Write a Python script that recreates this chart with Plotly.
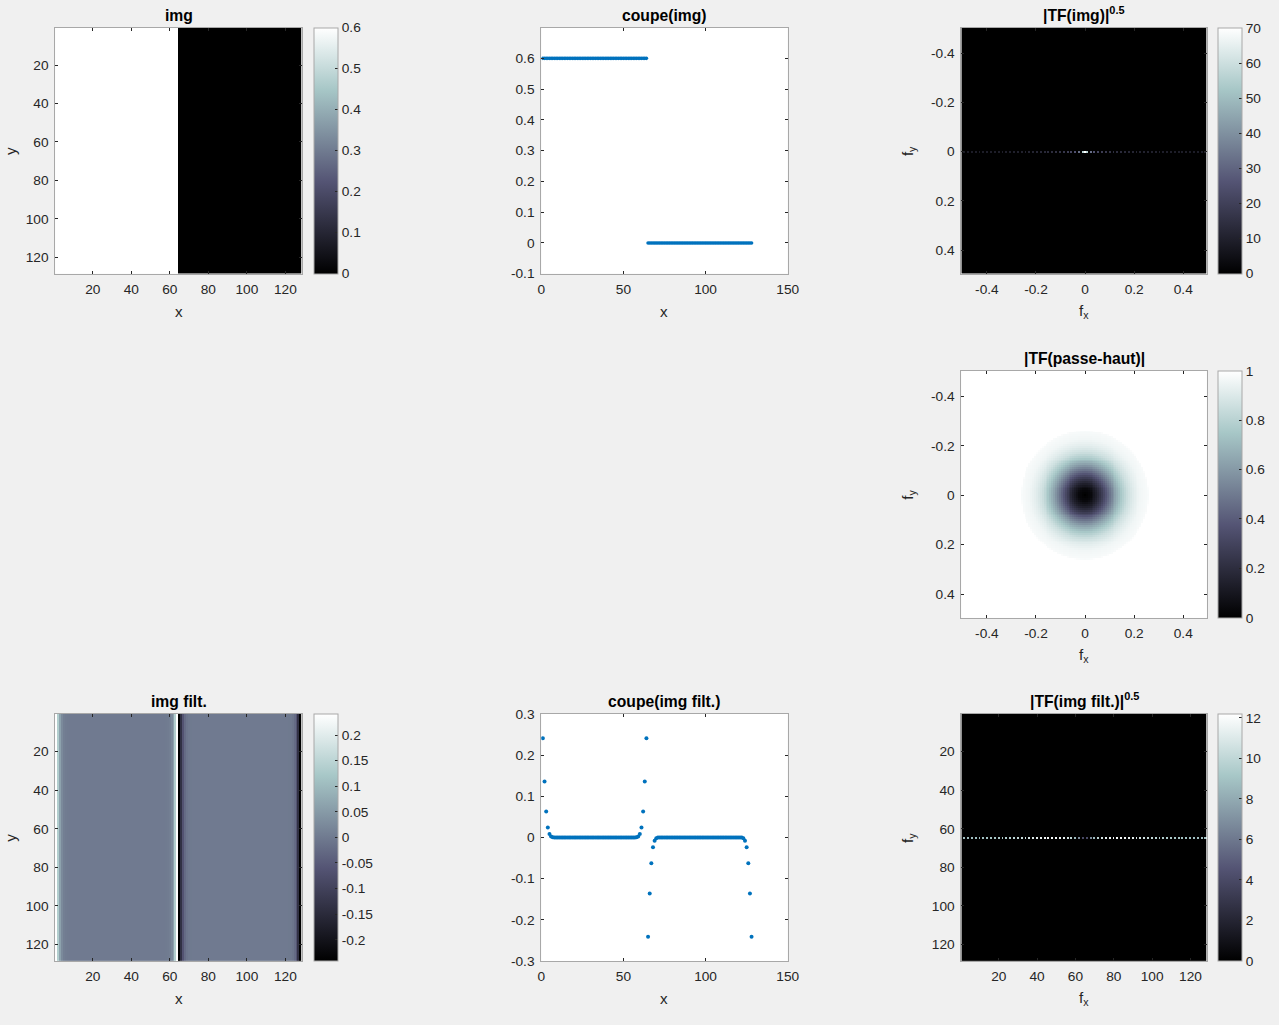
import numpy as np
import plotly.graph_objects as go

W, H = 1279, 1025
# measured mapping of this viewer: screen = S * css + O  (inverted below)
SX, OX = 0.9896, 2.6
SY, OY = 0.985, 6.4
FONT = "Liberation Sans, Arial, Helvetica, sans-serif"
TXT = "#262626"
BONE = [[0.0, "rgb(0,0,0)"], [0.375, "rgb(84,84,116)"],
        [0.75, "rgb(167,199,199)"], [1.0, "rgb(255,255,255)"]]

# ---------------- data ----------------
pixel_index = list(range(1, 129))
freq = [k / 128 for k in range(-64, 64)]

# one row (coupe) of the input image: left half bright, right half dark
img_profile = [0.6] * 64 + [0.0] * 64

# one row of the filtered image: values near each edge (x = 1..7)
filt_edge = [0.241, 0.136, 0.063, 0.024, 0.008, 0.002, 0.0005]
filt_profile = (filt_edge + [0.0] * 50 + filt_edge[::-1]
                + [-v for v in filt_edge] + [0.0] * 50 + [-v for v in filt_edge[::-1]])

# radial gain of the high-pass filter read from |TF(passe-haut)|
hp_radius = [0.0, 0.025, 0.05, 0.075, 0.1, 0.125, 0.15, 0.175, 0.2, 0.225, 0.25, 0.258, 0.262, 0.75]
hp_gain = [0.0, 0.04, 0.15, 0.30, 0.47, 0.63, 0.76, 0.86, 0.92, 0.96, 0.975, 0.98, 1.0, 1.0]

# colour ranges
range_img = [0.0, 0.6]
range_tf = [0.0, 70.1]
range_hp = [0.0, 1.0]
range_filt = [-0.2414, 0.2414]
range_tff = [0.0, 12.2]

# tick labels
pix_ticks = [20, 40, 60, 80, 100, 120]
freq_ticks = [-0.4, -0.2, 0, 0.2, 0.4]
freq_ticktext = ["-0.4", "-0.2", "0", "0.2", "0.4"]
coupe_xticks = [0, 50, 100, 150]
coupe1_yticks = [-0.1, 0, 0.1, 0.2, 0.3, 0.4, 0.5, 0.6]
coupe1_yticktext = ["-0.1", "0", "0.1", "0.2", "0.3", "0.4", "0.5", "0.6"]
coupe2_yticks = [-0.3, -0.2, -0.1, 0, 0.1, 0.2, 0.3]
coupe2_yticktext = ["-0.3", "-0.2", "-0.1", "0", "0.1", "0.2", "0.3"]
cb_img = [0, 0.1, 0.2, 0.3, 0.4, 0.5, 0.6]
cb_tf = [0, 10, 20, 30, 40, 50, 60, 70]
cb_hp = [0, 0.2, 0.4, 0.6, 0.8, 1]
cb_hp_text = ["0", "0.2", "0.4", "0.6", "0.8", "1"]
cb_filt = [-0.2, -0.15, -0.1, -0.05, 0, 0.05, 0.1, 0.15, 0.2]
cb_filt_text = ["-0.2", "-0.15", "-0.1", "-0.05", "0", "0.05", "0.1", "0.15", "0.2"]
cb_tff = [0, 2, 4, 6, 8, 10, 12]

# ---------------- derived tables ----------------
img = np.tile(np.array(img_profile), (128, 1))
img_filt = np.tile(np.array(filt_profile), (128, 1))
tf_img = np.sqrt(np.abs(np.fft.fftshift(np.fft.fft2(img))))
tf_filt = np.sqrt(np.abs(np.fft.fftshift(np.fft.fft2(img_filt))))
FX, FY = np.meshgrid(freq, freq)
hp = np.interp(np.hypot(FX, FY), hp_radius, hp_gain)

# ---------------- layout helpers (target screen pixels -> paper) ----------------
def px(sx):
    return ((sx - OX) / SX) / W

def py(sy):
    return 1 - ((sy - OY) / SY) / H

TICK = 13.7
panels = {
    "A": (54, 301, 27, 273),
    "B": (541, 788, 27, 273),
    "C": (962, 1208, 27, 273),
    "D": (962, 1208, 370, 617),
    "E": (54, 301, 713, 960),
    "F": (541, 788, 713, 960),
    "G": (962, 1208, 713, 960),
}
order = ["A", "B", "C", "D", "E", "F", "G"]

def axis(domain, rng, tickvals, ticktext, anchor, standoff):
    return dict(domain=domain, range=rng, tickvals=tickvals,
                ticktext=ticktext if ticktext else [str(v) for v in tickvals],
                ticks="inside", ticklen=3, tickcolor=TXT, tickwidth=1,
                showline=True, linecolor="#a8a8a8", linewidth=1, mirror="ticks",
                showgrid=False, zeroline=False, anchor=anchor, fixedrange=True,
                ticklabelstandoff=standoff,
                tickfont=dict(family=FONT, size=TICK, color=TXT))

def cbar(p, tickvals, ticktext=None, cbx=313):
    x0, x1, y0, y1 = p
    return dict(x=px(cbx), xanchor="left", y=py((y0 + y1) / 2), yanchor="middle",
                len=(y1 - y0) / SY / H, lenmode="fraction", thickness=24 / SX,
                thicknessmode="pixels",
                outlinecolor="#a8a8a8", outlinewidth=1, ticks="inside", ticklen=3,
                tickcolor=TXT, xpad=0, ypad=0, tickvals=tickvals,
                ticktext=ticktext if ticktext else [str(v) for v in tickvals],
                tickfont=dict(family=FONT, size=TICK, color=TXT))

fig = go.Figure()
layout = {}
ax_defs = {
    "A": ([0.5, 128.5], pix_ticks, None, [128.5, 0.5], pix_ticks, None),
    "B": ([0, 150], coupe_xticks, None, [-0.1, 0.7], coupe1_yticks, coupe1_yticktext),
    "C": ([-0.5 - 1 / 256, 0.5 - 1 / 256], freq_ticks, freq_ticktext,
          [0.5 - 1 / 256, -0.5 - 1 / 256], freq_ticks, freq_ticktext),
    "D": ([-0.5 - 1 / 256, 0.5 - 1 / 256], freq_ticks, freq_ticktext,
          [0.5 - 1 / 256, -0.5 - 1 / 256], freq_ticks, freq_ticktext),
    "E": ([0.5, 128.5], pix_ticks, None, [128.5, 0.5], pix_ticks, None),
    "F": ([0, 150], coupe_xticks, None, [-0.3, 0.3], coupe2_yticks, coupe2_yticktext),
    "G": ([0.5, 128.5], pix_ticks, None, [128.5, 0.5], pix_ticks, None),
}
for i, key in enumerate(order, start=1):
    x0, x1, y0, y1 = panels[key]
    xd, yd = [px(x0), px(x1)], [py(y1), py(y0)]
    xr, xt, xtt, yr, yt, ytt = ax_defs[key]
    sx = "" if i == 1 else str(i)
    layout["xaxis" + sx] = axis(xd, xr, xt, xtt, "y" + sx, 3)
    layout["yaxis" + sx] = axis(yd, yr, yt, ytt, "x" + sx, 3)

def ref(key):
    i = order.index(key) + 1
    return ("x", "y") if i == 1 else ("x%d" % i, "y%d" % i)

# A: img
xa, ya = ref("A")
fig.add_trace(go.Heatmap(z=img, x=pixel_index, y=pixel_index, colorscale=BONE,
                         zmin=range_img[0], zmax=range_img[1], xaxis=xa, yaxis=ya,
                         colorbar=cbar(panels["A"], cb_img)))
# B: coupe(img)
xa, ya = ref("B")
fig.add_trace(go.Scatter(x=pixel_index, y=img_profile, mode="markers",
                         marker=dict(size=3.6, color="#0072BD"), xaxis=xa, yaxis=ya,
                         showlegend=False))
# C: |TF(img)|^0.5
xa, ya = ref("C")
fig.add_trace(go.Heatmap(z=tf_img, x=freq, y=freq, colorscale=BONE,
                         zmin=range_tf[0], zmax=range_tf[1], xaxis=xa, yaxis=ya,
                         colorbar=cbar(panels["C"], cb_tf, cbx=1219)))
# D: |TF(passe-haut)|
xa, ya = ref("D")
fig.add_trace(go.Heatmap(z=hp, x=freq, y=freq, colorscale=BONE,
                         zmin=range_hp[0], zmax=range_hp[1], xaxis=xa, yaxis=ya,
                         colorbar=cbar(panels["D"], cb_hp, cb_hp_text, cbx=1219)))
# E: img filt.
xa, ya = ref("E")
fig.add_trace(go.Heatmap(z=img_filt, x=pixel_index, y=pixel_index, colorscale=BONE,
                         zmin=range_filt[0], zmax=range_filt[1],
                         xaxis=xa, yaxis=ya,
                         colorbar=cbar(panels["E"], cb_filt, cb_filt_text)))
# F: coupe(img filt.)
xa, ya = ref("F")
fig.add_trace(go.Scatter(x=pixel_index, y=filt_profile, mode="markers",
                         marker=dict(size=4, color="#0072BD"), xaxis=xa, yaxis=ya,
                         showlegend=False))
# G: |TF(img filt.)|^0.5
xa, ya = ref("G")
fig.add_trace(go.Heatmap(z=tf_filt, x=pixel_index, y=pixel_index, colorscale=BONE,
                         zmin=range_tff[0], zmax=range_tff[1], xaxis=xa, yaxis=ya,
                         colorbar=cbar(panels["G"], cb_tff, cbx=1219)))

titles = {
    "A": "<b>img</b>", "B": "<b>coupe(img)</b>", "C": "<b>|TF(img)|<sup>0.5</sup></b>",
    "D": "<b>|TF(passe-haut)|</b>", "E": "<b>img filt.</b>",
    "F": "<b>coupe(img filt.)</b>", "G": "<b>|TF(img filt.)|<sup>0.5</sup></b>",
}
xlabels = {"A": "x", "B": "x", "C": "f<sub>x</sub>", "D": "f<sub>x</sub>",
           "E": "x", "F": "x", "G": "f<sub>x</sub>"}
ylabels = {"A": "y", "C": "f<sub>y</sub>", "D": "f<sub>y</sub>", "E": "y", "G": "f<sub>y</sub>"}
ylabel_x = {"A": 9, "C": 909, "D": 909, "E": 9, "G": 909}

ann = []
for key in order:
    x0, x1, y0, y1 = panels[key]
    cx = px((x0 + x1) / 2)
    ann.append(dict(text=titles[key], x=cx, y=py(y0), xref="paper", yref="paper",
                    xanchor="center", yanchor="bottom", showarrow=False, yshift=2,
                    font=dict(family=FONT, size=15.7, color="#000000")))
    ann.append(dict(text=xlabels[key], x=cx, y=py(y1 + 38), xref="paper", yref="paper",
                    xanchor="center", yanchor="middle", showarrow=False,
                    font=dict(family=FONT, size=15.2, color=TXT)))
    if key in ylabels:
        ann.append(dict(text=ylabels[key], x=px(ylabel_x[key]), y=py((y0 + y1) / 2),
                        xref="paper", yref="paper", xanchor="center", yanchor="middle",
                        textangle=-90, showarrow=False,
                        font=dict(family=FONT, size=15.2, color=TXT)))

fig.update_layout(width=W, height=H, margin=dict(l=0, r=0, t=0, b=0),
                  paper_bgcolor="#f0f0f0", plot_bgcolor="#ffffff",
                  showlegend=False, annotations=ann, **layout)
fig.write_html("out.html", config={"displayModeBar": False},
               post_script="document.body.style.margin='0';"
                           "document.body.style.background='#f0f0f0';"
                           "document.body.style.overflow='hidden';")
